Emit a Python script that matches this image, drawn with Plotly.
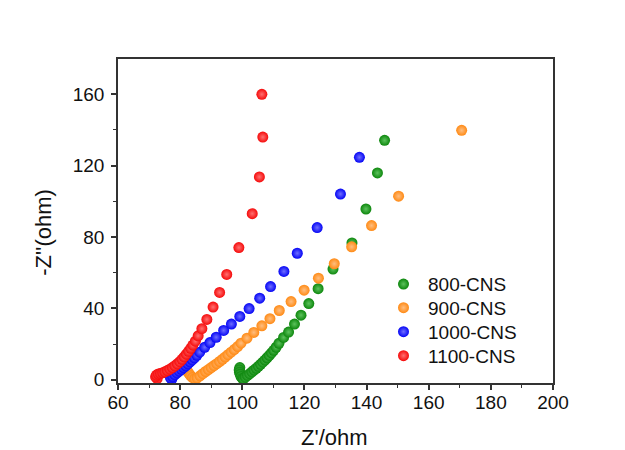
import plotly.graph_objects as go

# Nyquist data: Z' (ohm) and -Z'' (ohm) for each carbon sample
names = ["800-CNS", "900-CNS", "1000-CNS", "1100-CNS"]
colors = ["#0d870d", "#ff8a14", "#0505f5", "#f50a0a"]
highlights = ["#5cc25c", "#ffbe80", "#6e6eff", "#ff7070"]

z_re_800 = [99.2, 99.0, 99.1, 99.3, 99.6, 100.0, 100.4, 101.0, 101.7, 102.4, 103.1,
            103.8, 104.5, 105.2, 105.9, 106.6, 107.3, 108.0, 108.7, 109.4, 110.1,
            110.9, 111.8, 113.3, 114.9, 116.8, 118.9, 121.4, 124.4, 129.2, 135.3,
            139.8, 143.5, 145.8]
z_im_800 = [6.8, 5.5, 4.2, 3.0, 1.8, 0.8, 0.5, 1.4, 2.4, 3.4, 4.4,
            5.4, 6.4, 7.5, 8.6, 9.8, 11.0, 12.3, 13.6, 15.0, 16.5,
            18.2, 20.4, 23.7, 26.7, 31.2, 36.2, 42.7, 51.0, 62.0, 76.7,
            95.7, 115.9, 134.2]

z_re_900 = [82.4, 82.9, 83.4, 84.0, 84.7, 85.5, 86.4, 87.3, 88.2, 89.1, 90.0,
            90.9, 91.8, 92.7, 93.6, 94.5, 95.4, 96.4, 97.4, 98.5, 99.6, 101.5,
            103.7, 106.3, 108.9, 111.9, 115.7, 119.9, 124.5, 129.6, 135.2, 141.6,
            150.3, 170.6]
z_im_900 = [4.6, 3.4, 2.2, 1.2, 0.6, 1.0, 2.2, 3.4, 4.6, 5.7, 6.8,
            7.9, 9.0, 10.2, 11.4, 12.7, 14.0, 15.4, 16.9, 18.6, 20.5, 23.3,
            26.5, 30.2, 34.2, 38.8, 43.8, 50.2, 56.9, 65.0, 74.5, 86.4,
            102.9, 139.8]

z_re_1000 = [77.3, 76.9, 77.6, 78.3, 79.0, 79.7, 80.4, 81.1, 81.8, 82.5, 83.2,
             83.9, 84.6, 85.4, 86.3, 87.9, 89.6, 91.6, 94.0, 96.5, 99.2, 102.2,
             105.6, 109.1, 113.4, 117.7, 124.1, 131.6, 137.7]
z_im_1000 = [0.2, 1.0, 1.8, 2.8, 3.8, 4.8, 5.8, 6.8, 7.8, 8.9, 10.0,
             11.1, 12.3, 13.7, 15.4, 18.2, 20.8, 23.8, 27.6, 31.2, 35.5, 39.9,
             45.7, 52.2, 60.7, 70.9, 85.3, 104.1, 124.7]

z_re_1100 = [72.6, 72.1, 72.4, 73.0, 73.7, 74.4, 75.1, 75.9, 76.7, 77.5, 78.3,
             79.1, 79.9, 80.6, 81.3, 82.0, 82.7, 83.4, 84.1, 84.9, 85.8, 87.0,
             88.6, 90.6, 92.7, 95.0, 98.9, 103.2, 105.5, 106.6, 106.3]
z_im_1100 = [0.6, 1.6, 2.6, 3.2, 3.5, 3.9, 4.4, 5.1, 5.9, 6.8, 7.8,
             8.9, 10.1, 11.4, 12.8, 14.3, 15.9, 17.6, 19.4, 21.6, 24.6, 28.6,
             33.8, 40.7, 48.9, 59.0, 74.1, 93.1, 113.7, 136.0, 160.0]

x_sets = [z_re_800, z_re_900, z_re_1000, z_re_1100]
y_sets = [z_im_800, z_im_900, z_im_1000, z_im_1100]

x_ticks = [60, 80, 100, 120, 140, 160, 180, 200]
y_ticks = [0, 40, 80, 120, 160]

FONT = "Liberation Sans, Arial, sans-serif"
AXIS = "#333333"
TEXT = "#111111"

# one legend box per series so the row spacing can be set exactly
legend_ids = ["legend", "legend2", "legend3", "legend4"]
legend_rows = [0.305, 0.232, 0.158, 0.084]

fig = go.Figure()
for name, xs, ys, c, h, lg in zip(names, x_sets, y_sets, colors, highlights, legend_ids):
    fig.add_trace(go.Scatter(
        x=xs, y=ys, mode="markers", name=name, legend=lg,
        marker=dict(size=11, color=c, opacity=1, line=dict(width=0),
                    gradient=dict(type="radial", color=h)),
    ))

axis_common = dict(
    showline=True, linecolor=AXIS, linewidth=1.5, mirror=True,
    ticks="outside", ticklen=5, tickwidth=1.5, tickcolor=AXIS,
    showgrid=False, zeroline=False,
    tickfont=dict(family=FONT, size=19, color=TEXT),
    minor=dict(ticks="outside", ticklen=3, tickwidth=1.2, tickcolor=AXIS),
)

fig.update_xaxes(range=[60, 200], tickvals=x_ticks,
                 minor_dtick=10, minor_tick0=0, ticklabelstandoff=-4,
                 **axis_common)
fig.update_yaxes(range=[-1.85, 179.8], tickvals=y_ticks,
                 minor_dtick=20, minor_tick0=0, ticklabelstandoff=3,
                 **axis_common)

fig.add_annotation(text="Z'/ohm", xref="paper", yref="paper", x=0.498, y=-0.168,
                   xanchor="center", yanchor="middle", showarrow=False,
                   font=dict(family=FONT, size=22, color=TEXT))
fig.add_annotation(text="-Z''(ohm)", xref="paper", yref="paper", x=-0.173, y=0.466,
                   xanchor="center", yanchor="middle", showarrow=False, textangle=-90,
                   font=dict(family=FONT, size=22, color=TEXT))

legend_style = dict(xanchor="left", yanchor="middle", bgcolor="rgba(0,0,0,0)",
                    borderwidth=0, itemwidth=39,
                    font=dict(family=FONT, size=19, color=TEXT))

fig.update_layout(
    width=625, height=450,
    margin=dict(l=118, r=72, t=59, b=67),
    paper_bgcolor="white", plot_bgcolor="white",
    showlegend=True,
    **{lg: dict(x=0.60, y=row, **legend_style)
       for lg, row in zip(legend_ids, legend_rows)},
)

fig.write_html("out.html")
